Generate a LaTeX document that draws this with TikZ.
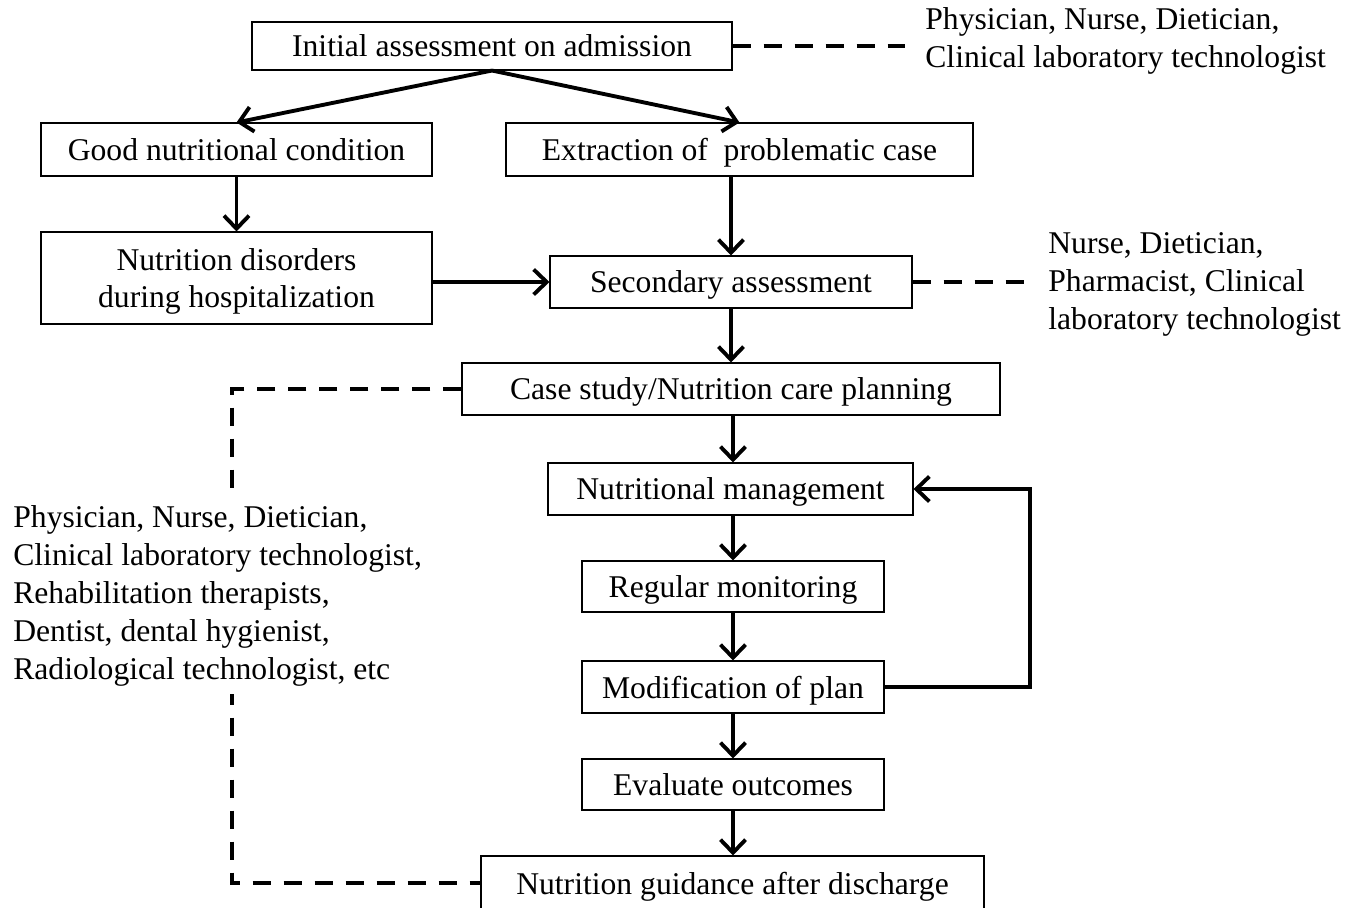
\documentclass[tikz,border=0pt]{standalone}
\usepackage{fontspec}
\setmainfont{Liberation Serif}
\usetikzlibrary{arrows.meta}

\begin{document}
\begin{tikzpicture}[x=0.2mm,y=-0.2mm,
  box/.style={draw, line width=0.6pt, inner sep=0pt, text depth=0pt, align=center, font=\fontsize{18}{21.6}\selectfont},
  flowarrow/.style={draw, line width=2.2pt, -{Straight Barb[length=2.6mm,width=5mm]}},
  teamlink/.style={line width=2pt, dash pattern=on 3.6mm off 2.6mm},
  teamtext/.style={align=left, inner sep=0pt, font=\fontsize{18}{21.6}\selectfont}]
  \clip (0,0) rectangle (1359,907);
  % main boxes
  \node[box, minimum width=96mm, minimum height=9.6mm] (init) at (492,46) {Initial assessment on admission};
  \node[box, minimum width=78.2mm, minimum height=10.6mm] (good) at (236.5,149.5) {Good nutritional condition};
  \node[box, minimum width=93.4mm, minimum height=10.6mm] (extract) at (739.5,149.5) {Extraction of~~problematic case};
  \node[box, minimum width=78.2mm, minimum height=18.4mm] (disorders) at (236.5,278) {Nutrition disorders\\during hospitalization};
  \node[box, minimum width=72.4mm, minimum height=10.4mm] (second) at (731,282) {Secondary assessment};
  \node[box, minimum width=107.6mm, minimum height=10.4mm] (casestudy) at (731,389) {Case study/Nutrition care planning};
  \node[box, minimum width=73mm, minimum height=10.4mm] (mgmt) at (730.5,489) {Nutritional management};
  \node[box, minimum width=60.4mm, minimum height=10.2mm] (monitor) at (733,586.5) {Regular monitoring};
  \node[box, minimum width=60.4mm, minimum height=10.4mm] (modify) at (733,687) {Modification of plan};
  \node[box, minimum width=60.4mm, minimum height=10.2mm] (evaluate) at (733,784.5) {Evaluate outcomes};
  \node[box, minimum width=100.6mm, minimum height=10.8mm] (discharge) at (732.5,883) {Nutrition guidance after discharge};
  % flow arrows
  \draw[flowarrow] (init.south) -- (good.north);
  \draw[flowarrow] (init.south) -- (extract.north);
  \draw[flowarrow] (good.south) -- (disorders.north);
  \draw[flowarrow] (extract.south -| second.north) -- (second.north);
  \draw[flowarrow] (disorders.east |- second.west) -- (second.west);
  \draw[flowarrow] (second.south) -- (casestudy.north -| second.south);
  \draw[flowarrow] (casestudy.south -| 733,0) -- (mgmt.north -| 733,0);
  \draw[flowarrow] (mgmt.south -| 733,0) -- (monitor.north);
  \draw[flowarrow] (monitor.south) -- (modify.north);
  \draw[flowarrow] (modify.south) -- (evaluate.north);
  \draw[flowarrow] (evaluate.south) -- (discharge.north -| evaluate.south);
  % feedback loop
  \coordinate (loop) at (1030,589);
  \draw[flowarrow] (modify.east) -| (loop) |- (mgmt.east);
  % staff in charge
  \node[teamtext, anchor=west] (team1) at (925,41) {Physician, Nurse, Dietician,\\Clinical laboratory technologist};
  \draw[teamlink, shorten >=4mm] (init.east) -- (init.east -| team1.west);
  \node[teamtext, anchor=west] (team2) at (1048,284) {Nurse, Dietician,\\Pharmacist, Clinical\\laboratory technologist};
  \draw[teamlink, shorten >=4.6mm] (second.east) -- (second.east -| team2.west);
  \coordinate (bend) at (232,636);
  \draw[teamlink] (casestudy.west) -| (bend) |- (discharge.west);
  \node[teamtext, anchor=west, fill=white, inner ysep=1.5mm] (team3) at (13,596) {Physician, Nurse, Dietician,\\Clinical laboratory technologist,\\Rehabilitation therapists,\\Dentist, dental hygienist,\\Radiological technologist, etc};
\end{tikzpicture}
\end{document}
